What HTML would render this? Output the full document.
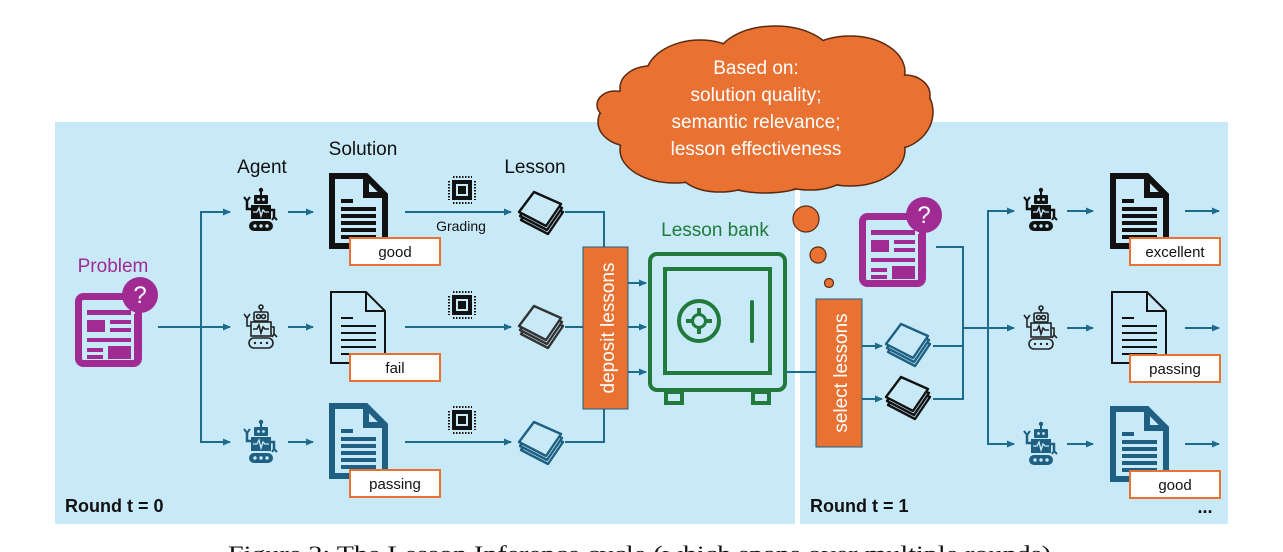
<!DOCTYPE html>
<html><head><meta charset="utf-8"><style>
html,body{margin:0;padding:0;background:#fff;}
svg{display:block;}
text{font-family:"Liberation Sans",sans-serif;}
</style></head><body>
<svg width="1283" height="552" viewBox="0 0 1283 552" xmlns="http://www.w3.org/2000/svg">
<defs>
<marker id="ar" markerWidth="8" markerHeight="8" refX="7" refY="4" orient="auto" markerUnits="userSpaceOnUse">
<path d="M0,0.5 L8,4 L0,7.5 Z" fill="#1f6b8c"/></marker>
<symbol id="robotF" viewBox="0 0 36 46" overflow="visible">
<circle cx="19" cy="3" r="2.2"/><rect x="18" y="4" width="2" height="5"/>
<rect x="12" y="8" width="14" height="9" rx="1"/>
<circle cx="16.5" cy="12.5" r="1.4" fill="#c8eaf8"/><circle cx="21.5" cy="12.5" r="1.4" fill="#c8eaf8"/>
<rect x="9" y="18" width="20" height="14"/>
<polyline points="11,25 15,25 17,21 19,29 21,23 23,25 27,25" fill="none" stroke="#c8eaf8" stroke-width="1.3"/>
<path d="M9,22 H5 V14" fill="none" stroke="currentColor" stroke-width="2.5"/>
<path d="M2,10 L5,14 L8,10" fill="none" stroke="currentColor" stroke-width="2"/>
<path d="M29,23 H32 V30" fill="none" stroke="currentColor" stroke-width="2.5"/>
<path d="M30,33 L32,30 L35,33" fill="none" stroke="currentColor" stroke-width="2"/>
<rect x="7" y="34" width="24" height="10" rx="5"/>
<circle cx="13" cy="39" r="1.7" fill="#c8eaf8"/><circle cx="19" cy="39" r="1.7" fill="#c8eaf8"/><circle cx="25" cy="39" r="1.7" fill="#c8eaf8"/>
</symbol>
<symbol id="robotO" viewBox="0 0 36 46" overflow="visible">
<g fill="none" stroke="#222" stroke-width="1.6">
<circle cx="19" cy="3" r="2"/><line x1="19" y1="5" x2="19" y2="8"/>
<rect x="12" y="8" width="14" height="9" rx="1.5"/>
<circle cx="16.5" cy="12.5" r="2"/><circle cx="21.5" cy="12.5" r="2"/>
<rect x="9" y="18" width="20" height="14"/>
<polyline points="11,25 15,25 17,21 19,29 21,23 23,25 27,25"/>
<path d="M9,22 H5 V14 M2,10 L5,14 L8,10"/>
<path d="M29,23 H32 V30 M30,33 L32,30 L35,33"/>
<rect x="7" y="34" width="24" height="10" rx="5"/>
</g>
<circle cx="13" cy="39" r="1.2" fill="#222"/><circle cx="19" cy="39" r="1.2" fill="#222"/><circle cx="25" cy="39" r="1.2" fill="#222"/>
</symbol>
<symbol id="docT" viewBox="0 0 58 75" overflow="visible">
<path d="M3,3 H37 L56,22 V73 H3 Z M37,3 V22 H56" fill="none" stroke="currentColor" stroke-width="6" stroke-linejoin="miter"/>
<g stroke="currentColor" stroke-width="4"><line x1="12" y1="28" x2="24" y2="28"/><line x1="12" y1="36" x2="47" y2="36"/><line x1="12" y1="43" x2="47" y2="43"/><line x1="12" y1="50" x2="47" y2="50"/><line x1="12" y1="57" x2="47" y2="57"/><line x1="12" y1="64" x2="47" y2="64"/></g>
</symbol>
<symbol id="docN" viewBox="0 0 58 75" overflow="visible">
<path d="M2,2 H37 L56,21 V73 H2 Z M37,2 V21 H56" fill="none" stroke="#111" stroke-width="2"/>
<g stroke="#111" stroke-width="2"><line x1="12" y1="28" x2="24" y2="28"/><line x1="12" y1="36" x2="47" y2="36"/><line x1="12" y1="43" x2="47" y2="43"/><line x1="12" y1="50" x2="47" y2="50"/><line x1="12" y1="57" x2="47" y2="57"/><line x1="12" y1="64" x2="47" y2="64"/></g>
</symbol>
<symbol id="stack" viewBox="0 0 50 50" overflow="visible">
<g fill="#c8eaf8" stroke="currentColor" stroke-width="2.4" stroke-linejoin="round">
<polygon points="6,30 21,10 48,22 33,44"/>
<polygon points="5,26 20,6 47,18 32,40"/>
<polygon points="4,22 19,2 46,14 31,36"/>
</g>
</symbol>
<symbol id="chip" viewBox="0 0 30 30" overflow="visible">
<rect x="5" y="5" width="20" height="20" fill="#111"/>
<rect x="9" y="9" width="12" height="12" fill="#c8eaf8"/>
<rect x="11" y="11" width="8" height="8" fill="#111"/>
<g stroke="#111" stroke-width="2" stroke-dasharray="1.5 1.5">
<line x1="6" y1="2" x2="25" y2="2"/><line x1="6" y1="28" x2="25" y2="28"/>
<line x1="2" y1="6" x2="2" y2="25"/><line x1="28" y1="6" x2="28" y2="25"/></g>
</symbol>
<symbol id="prob" viewBox="0 0 77 79" overflow="visible">
<rect x="3.5" y="8.5" width="60" height="67" rx="5" fill="#c8eaf8" stroke="#a02b93" stroke-width="7"/>
<g fill="#a02b93">
<rect x="12" y="22" width="44" height="5"/>
<rect x="12" y="32" width="18" height="12"/>
<rect x="35" y="32" width="21" height="4"/><rect x="35" y="40" width="21" height="4"/>
<rect x="12" y="50" width="44" height="4"/>
<rect x="12" y="60" width="16" height="4"/><rect x="12" y="67" width="16" height="4"/>
<rect x="33" y="58" width="23" height="13"/>
<rect x="59" y="26" width="5" height="46"/>
<circle cx="65" cy="7" r="18"/></g>
<text x="65" y="15" font-size="24" fill="#fff" text-anchor="middle">?</text>
</symbol>
</defs>

<rect x="55" y="122" width="740" height="402" fill="#c8eaf8"/>
<rect x="800" y="122" width="428" height="402" fill="#c8eaf8"/>

<!-- cloud -->
<g id="cl" fill="#e97132" stroke="#5a2a10" stroke-width="1.5">
<ellipse cx="660" cy="118" rx="55" ry="40"/>
<ellipse cx="700" cy="78" rx="55" ry="38"/>
<ellipse cx="775" cy="62" rx="60" ry="36"/>
<ellipse cx="850" cy="72" rx="55" ry="36"/>
<ellipse cx="890" cy="112" rx="43" ry="38"/>
<ellipse cx="850" cy="150" rx="55" ry="36"/>
<ellipse cx="765" cy="160" rx="65" ry="33"/>
<ellipse cx="675" cy="150" rx="55" ry="33"/>
<ellipse cx="630" cy="122" rx="32" ry="24"/>
<ellipse cx="615" cy="105" rx="18" ry="14"/>
<ellipse cx="650" cy="88" rx="30" ry="22"/>
<ellipse cx="905" cy="95" rx="25" ry="20"/>
<ellipse cx="720" cy="172" rx="40" ry="20"/>
<ellipse cx="810" cy="170" rx="40" ry="20"/>
</g>
<g fill="#e97132">
<ellipse cx="660" cy="118" rx="54" ry="39"/>
<ellipse cx="700" cy="78" rx="54" ry="37"/>
<ellipse cx="775" cy="62" rx="59" ry="35"/>
<ellipse cx="850" cy="72" rx="54" ry="35"/>
<ellipse cx="890" cy="112" rx="42" ry="37"/>
<ellipse cx="850" cy="150" rx="54" ry="35"/>
<ellipse cx="765" cy="160" rx="64" ry="32"/>
<ellipse cx="675" cy="150" rx="54" ry="32"/>
<ellipse cx="630" cy="122" rx="31" ry="23"/>
<ellipse cx="615" cy="105" rx="17" ry="13"/>
<ellipse cx="650" cy="88" rx="29" ry="21"/>
<ellipse cx="905" cy="95" rx="24" ry="19"/>
<ellipse cx="720" cy="172" rx="39" ry="19"/>
<ellipse cx="810" cy="170" rx="39" ry="19"/>
<ellipse cx="765" cy="114" rx="140" ry="55"/>
</g>
<g fill="#fff" font-size="19" text-anchor="middle">
<text x="756" y="74">Based on:</text>
<text x="756" y="101">solution quality;</text>
<text x="756" y="128">semantic relevance;</text>
<text x="756" y="155">lesson effectiveness</text>
</g>
<g fill="#e97132" stroke="#5a2a10" stroke-width="1.2">
<circle cx="806" cy="219" r="13"/><circle cx="818" cy="255" r="8"/><circle cx="829" cy="283" r="4.5"/>
</g>

<g font-size="19" fill="#111" text-anchor="middle">
<text x="262" y="173">Agent</text>
<text x="363" y="155">Solution</text>
<text x="535" y="173">Lesson</text>
</g>
<text x="113" y="272" font-size="19" fill="#a02b93" text-anchor="middle">Problem</text>
<text x="715" y="236" font-size="19" fill="#217a3c" text-anchor="middle">Lesson bank</text>

<g stroke="#1f6b8c" stroke-width="2" fill="none">
<line x1="158" y1="327" x2="201" y2="327"/>
<path d="M230,212 H201 V442 H230"/>
<line x1="201" y1="327" x2="230" y2="327" marker-end="url(#ar)"/>
<line x1="201" y1="212" x2="230" y2="212" marker-end="url(#ar)"/>
<line x1="201" y1="442" x2="230" y2="442" marker-end="url(#ar)"/>
<line x1="288" y1="212" x2="313" y2="212" marker-end="url(#ar)"/>
<line x1="288" y1="327" x2="313" y2="327" marker-end="url(#ar)"/>
<line x1="288" y1="442" x2="313" y2="442" marker-end="url(#ar)"/>
<line x1="405" y1="212" x2="511" y2="212" marker-end="url(#ar)"/>
<line x1="405" y1="327" x2="511" y2="327" marker-end="url(#ar)"/>
<line x1="405" y1="442" x2="511" y2="442" marker-end="url(#ar)"/>
<path d="M565,212 H604 V247"/>
<path d="M565,442 H604 V409"/>
<line x1="565" y1="327" x2="583" y2="327"/>
<line x1="628" y1="283" x2="646" y2="283" marker-end="url(#ar)"/>
<line x1="628" y1="327" x2="646" y2="327" marker-end="url(#ar)"/>
<line x1="628" y1="372" x2="646" y2="372" marker-end="url(#ar)"/>
<line x1="787" y1="372" x2="816" y2="372"/>
<line x1="862" y1="346" x2="882" y2="346" marker-end="url(#ar)"/>
<line x1="862" y1="399" x2="882" y2="399" marker-end="url(#ar)"/>
<path d="M936,247 H963 V399 H933"/>
<line x1="933" y1="346" x2="963" y2="346"/>
<line x1="963" y1="328" x2="988" y2="328"/>
<path d="M1014,211 H988 V444 H1014"/>
<line x1="988" y1="211" x2="1014" y2="211" marker-end="url(#ar)"/>
<line x1="988" y1="328" x2="1014" y2="328" marker-end="url(#ar)"/>
<line x1="988" y1="444" x2="1014" y2="444" marker-end="url(#ar)"/>
<line x1="1067" y1="211" x2="1093" y2="211" marker-end="url(#ar)"/>
<line x1="1067" y1="328" x2="1093" y2="328" marker-end="url(#ar)"/>
<line x1="1067" y1="444" x2="1093" y2="444" marker-end="url(#ar)"/>
<line x1="1185" y1="211" x2="1219" y2="211" marker-end="url(#ar)"/>
<line x1="1185" y1="328" x2="1219" y2="328" marker-end="url(#ar)"/>
<line x1="1185" y1="444" x2="1219" y2="444" marker-end="url(#ar)"/>
</g>

<use href="#prob" x="75" y="288" width="77" height="79"/>
<use href="#prob" x="859" y="208" width="77" height="79"/>

<use href="#robotF" x="242" y="187" width="36" height="46" style="color:#111" fill="#111"/>
<use href="#robotO" x="242" y="304" width="36" height="46"/>
<use href="#robotF" x="242" y="419" width="36" height="46" style="color:#1e5f82" fill="#1e5f82"/>
<use href="#robotF" x="1022" y="187" width="36" height="46" style="color:#111" fill="#111"/>
<use href="#robotO" x="1022" y="305" width="36" height="46"/>
<use href="#robotF" x="1022" y="421" width="36" height="46" style="color:#1e5f82" fill="#1e5f82"/>

<use href="#docT" x="329" y="173" width="58" height="75" style="color:#111"/>
<use href="#docN" x="329" y="290" width="58" height="75"/>
<use href="#docT" x="329" y="403" width="58" height="75" style="color:#1e5f82"/>
<use href="#docT" x="1110" y="173" width="58" height="75" style="color:#111"/>
<use href="#docN" x="1110" y="290" width="58" height="75"/>
<use href="#docT" x="1110" y="406" width="58" height="75" style="color:#1e5f82"/>

<g fill="#fff" stroke="#e97132" stroke-width="2">
<rect x="350" y="238" width="90" height="27"/>
<rect x="350" y="354" width="90" height="27"/>
<rect x="350" y="470" width="90" height="27"/>
<rect x="1130" y="238" width="90" height="27"/>
<rect x="1130" y="355" width="90" height="27"/>
<rect x="1130" y="471" width="90" height="27"/>
</g>
<g font-size="15" fill="#111" text-anchor="middle">
<text x="395" y="257">good</text>
<text x="395" y="373">fail</text>
<text x="395" y="489">passing</text>
<text x="1175" y="257">excellent</text>
<text x="1175" y="374">passing</text>
<text x="1175" y="490">good</text>
</g>

<use href="#chip" x="447" y="175" width="30" height="30"/>
<use href="#chip" x="447" y="290" width="30" height="30"/>
<use href="#chip" x="447" y="405" width="30" height="30"/>
<text x="461" y="231" font-size="14" fill="#111" text-anchor="middle">Grading</text>

<use href="#stack" x="515" y="190" width="50" height="50" style="color:#111"/>
<use href="#stack" x="515" y="304" width="50" height="50" style="color:#333"/>
<use href="#stack" x="515" y="420" width="50" height="50" style="color:#1e5f82"/>
<use href="#stack" x="882" y="322" width="50" height="50" style="color:#1e5f82"/>
<use href="#stack" x="882" y="375" width="50" height="50" style="color:#111"/>

<rect x="583" y="247" width="45" height="162" fill="#e97132" stroke="#1e5f82" stroke-width="1"/>
<text transform="translate(614,328) rotate(-90)" font-size="19" fill="#fff" text-anchor="middle">deposit lessons</text>
<rect x="816" y="299" width="46" height="148" fill="#e97132" stroke="#1e5f82" stroke-width="1"/>
<text transform="translate(847,373) rotate(-90)" font-size="19" fill="#fff" text-anchor="middle">select lessons</text>

<g fill="none" stroke="#217a3c" stroke-width="4">
<rect x="650" y="254" width="135" height="136" rx="7"/>
<rect x="665" y="269" width="105" height="104"/>
<circle cx="699" cy="321" r="20"/>
<circle cx="699" cy="321" r="6"/>
<line x1="686" y1="321" x2="712" y2="321"/><line x1="699" y1="308" x2="699" y2="334"/>
<rect x="666" y="392" width="16" height="11"/><rect x="753" y="392" width="16" height="11"/>
</g>
<line x1="752" y1="302" x2="752" y2="341" stroke="#217a3c" stroke-width="4" stroke-linecap="round"/>
<circle cx="699" cy="321" r="5" fill="#c8eaf8"/>

<text x="65" y="512" font-size="18" font-weight="bold" fill="#111">Round t = 0</text>
<text x="810" y="512" font-size="18" font-weight="bold" fill="#111">Round t = 1</text>
<text x="1205" y="513" font-size="18" font-weight="bold" fill="#111" text-anchor="middle">...</text>

<text x="228" y="561" font-size="22" fill="#111" style="font-family:'Liberation Serif',serif" textLength="830" lengthAdjust="spacingAndGlyphs">Figure 2: The Lesson Inference cycle (which spans over multiple rounds).</text>
</svg>
</body></html>
